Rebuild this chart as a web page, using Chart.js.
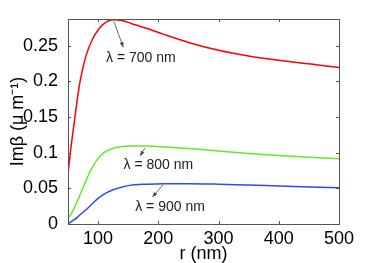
<!DOCTYPE html>
<html lang="en">
<head>
    <meta charset="UTF-8">
    <title>Im beta vs r</title>
    <script src="https://cdn.jsdelivr.net/npm/chart.js"></script>
    <style>
        body {
            margin: 0;
            background-color: white;
        }
        #wrap {
            width: 374px;
            height: 263px;
        }
    </style>
</head>
<body>
    <div id="wrap"><canvas id="betaChart" width="374" height="263"></canvas></div>

    <script>
        // radius in nm
        const radius = [50, 55, 60, 65, 70, 80, 90, 100, 110, 125, 140, 155, 180, 210, 250, 300, 350, 400, 450, 500];
        // Im(beta) in 1/um
        const beta700 = [0.070, 0.108, 0.140, 0.172, 0.200, 0.236, 0.258, 0.272, 0.281, 0.2862, 0.2852, 0.2812, 0.2745, 0.2655, 0.2545, 0.2435, 0.2355, 0.2295, 0.2245, 0.2195];
        const beta800 = [0.008, 0.014, 0.022, 0.031, 0.041, 0.061, 0.079, 0.092, 0.1005, 0.106, 0.1085, 0.1093, 0.1092, 0.1080, 0.1058, 0.1022, 0.0988, 0.0960, 0.0936, 0.0915];
        const beta900 = [0.000, 0.003, 0.006, 0.009, 0.013, 0.020, 0.028, 0.036, 0.042, 0.048, 0.052, 0.0545, 0.0558, 0.0565, 0.0565, 0.0558, 0.0546, 0.0532, 0.0519, 0.0508];

        const xTicks = [100, 200, 300, 400, 500];
        const yTicks = [0, 0.05, 0.1, 0.15, 0.2, 0.25];

        // labels with arrows: text at (x, y), arrow from (ax0, ay0) to (ax1, ay1), data units
        const notes = [
            { text: 'λ = 700 nm', x: 171, y: 0.232, ax0: 126, ay0: 0.2843, ax1: 141.8, ay1: 0.2478 },
            { text: 'λ = 800 nm', x: 200, y: 0.0827, ax0: 178, ay0: 0.1066, ax1: 169.6, ay1: 0.0954 },
            { text: 'λ = 900 nm', x: 219.4, y: 0.0238, ax0: 207.7, ay0: 0.0547, ax1: 190.3, ay1: 0.0379 }
        ];

        const FONT = '"Liberation Sans", Arial, sans-serif';
        const AXIS_COLOR = '#555';

        // box around plot area + inward ticks on all four sides
        const boxPlugin = {
            id: 'box',
            afterDatasetsDraw(chart) {
                const ctx = chart.ctx;
                const a = chart.chartArea;
                const xs = chart.scales.x;
                const ys = chart.scales.y;
                ctx.save();
                ctx.strokeStyle = AXIS_COLOR;
                ctx.lineWidth = 1;
                ctx.beginPath();
                xTicks.forEach(v => {
                    const px = Math.round(xs.getPixelForValue(v)) + 0.5;
                    ctx.moveTo(px, a.bottom); ctx.lineTo(px, a.bottom - 3);
                    ctx.moveTo(px, a.top); ctx.lineTo(px, a.top + 3);
                });
                yTicks.forEach(v => {
                    const py = Math.round(ys.getPixelForValue(v)) + 0.5;
                    ctx.moveTo(a.left, py); ctx.lineTo(a.left + 3, py);
                    ctx.moveTo(a.right, py); ctx.lineTo(a.right - 3, py);
                });
                ctx.stroke();
                ctx.strokeRect(Math.round(a.left) + 0.5, Math.round(a.top) + 0.5,
                    Math.round(a.right - a.left), Math.round(a.bottom - a.top));

                // annotations
                ctx.font = '14px ' + FONT;
                ctx.textAlign = 'center';
                ctx.textBaseline = 'middle';
                notes.forEach(n => {
                    ctx.fillStyle = '#222';
                    ctx.fillText(n.text, xs.getPixelForValue(n.x), ys.getPixelForValue(n.y));
                    const x0 = xs.getPixelForValue(n.ax0), y0 = ys.getPixelForValue(n.ay0);
                    const x1 = xs.getPixelForValue(n.ax1), y1 = ys.getPixelForValue(n.ay1);
                    const ang = Math.atan2(y1 - y0, x1 - x0);
                    ctx.strokeStyle = '#444';
                    ctx.fillStyle = '#444';
                    ctx.lineWidth = 0.8;
                    ctx.beginPath();
                    ctx.moveTo(x0, y0);
                    ctx.lineTo(x1, y1);
                    ctx.stroke();
                    ctx.beginPath();
                    ctx.moveTo(x1, y1);
                    ctx.lineTo(x1 - 5 * Math.cos(ang) + 2 * Math.sin(ang), y1 - 5 * Math.sin(ang) - 2 * Math.cos(ang));
                    ctx.lineTo(x1 - 5 * Math.cos(ang) - 2 * Math.sin(ang), y1 - 5 * Math.sin(ang) + 2 * Math.cos(ang));
                    ctx.closePath();
                    ctx.fill();
                });
                ctx.restore();
            }
        };

        function line(data, color) {
            return {
                data: radius.map((r, i) => ({ x: r, y: data[i] })),
                borderColor: color,
                borderWidth: 1.5,
                pointRadius: 0,
                cubicInterpolationMode: 'monotone',
                fill: false
            };
        }

        new Chart(document.getElementById('betaChart'), {
            type: 'line',
            data: {
                datasets: [
                    line(beta700, '#ff0000'),
                    line(beta800, '#66e82a'),
                    line(beta900, '#2f48f5')
                ]
            },
            options: {
                responsive: false,
                animation: false,
                layout: { padding: { top: 19, right: 35, left: 0, bottom: 0 } },
                plugins: { legend: { display: false }, tooltip: { enabled: false } },
                scales: {
                    x: {
                        type: 'linear',
                        min: 50,
                        max: 500,
                        afterFit: s => { s.height = 39; },
                        afterBuildTicks: s => { s.ticks = xTicks.map(v => ({ value: v })); },
                        grid: { display: false },
                        border: { display: false },
                        ticks: {
                            color: '#000',
                            padding: -4,
                            maxRotation: 0,
                            font: { family: FONT, size: 18 }
                        },
                        title: {
                            display: true,
                            text: 'r (nm)',
                            color: '#000',
                            padding: { top: 0, bottom: -2 },
                            font: { family: FONT, size: 18 }
                        }
                    },
                    y: {
                        min: 0,
                        max: 0.2874,
                        afterFit: s => { s.width = 68; },
                        afterBuildTicks: s => { s.ticks = yTicks.map(v => ({ value: v })); },
                        grid: { display: false },
                        border: { display: false },
                        ticks: {
                            color: '#000',
                            padding: 2,
                            font: { family: FONT, size: 18 },
                            callback: v => String(+v.toFixed(2))
                        },
                        title: {
                            display: true,
                            text: 'Imβ (μ m⁻¹)',
                            color: '#000',
                            padding: { top: 7, bottom: 0 },
                            font: { family: FONT, size: 18 }
                        }
                    }
                }
            },
            plugins: [boxPlugin]
        });
    </script>
</body>
</html>
